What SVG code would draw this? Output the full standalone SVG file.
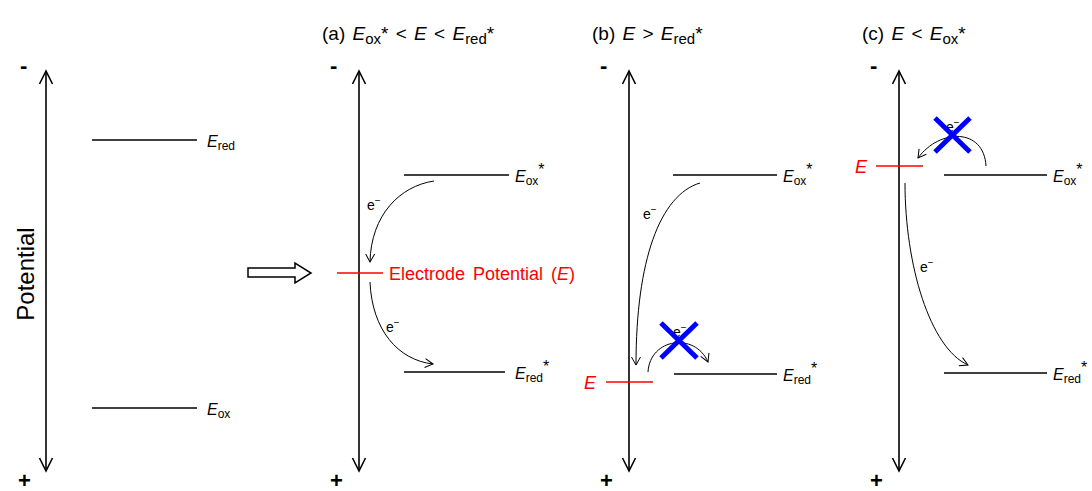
<svg xmlns="http://www.w3.org/2000/svg" width="1092" height="491" viewBox="0 0 1092 491">
<style>
text{font-family:"Liberation Sans",Arial,sans-serif;fill:#000}
.lbl{font-size:16px}
.i{font-style:italic}
.sub{font-size:12px}
.ttl{font-size:19px}
.red{fill:#ff0000}
.axis{stroke:#000;stroke-width:1.6;fill:none}
.lvl{stroke:#000;stroke-width:1.5;fill:none}
.rl{stroke:#ff0000;stroke-width:1.6;fill:none}
.cv{stroke:#000;stroke-width:1;fill:none}
.x{stroke:#0000ff;stroke-width:5;fill:none}
.sg{font-size:22px;font-weight:bold}
.el{font-size:14px}
</style>
<defs>
<marker id="ah" viewBox="-14 -8 16 16" refX="0" refY="0" markerWidth="16" markerHeight="16" markerUnits="userSpaceOnUse" orient="auto-start-reverse">
<path d="M-13,-6.5 L0,0 L-13,6.5" fill="none" stroke="#000" stroke-width="1.6"/>
</marker>
<marker id="sh" viewBox="-10 -6 12 12" refX="0" refY="0" markerWidth="12" markerHeight="12" markerUnits="userSpaceOnUse" orient="auto">
<path d="M-8,-4.5 L0,0 L-8,4.5" fill="none" stroke="#000" stroke-width="1"/>
</marker>
</defs>

<g id="panel0">
<line class="axis" x1="46" y1="71" x2="46" y2="471" marker-start="url(#ah)" marker-end="url(#ah)"/>
<text class="sg" x="20" y="73">-</text>
<text class="sg" x="18" y="488">+</text>
<text x="34" y="274" font-size="24" text-anchor="middle" transform="rotate(-90 34 274)">Potential</text>
<g id="Ered0"><line class="lvl" x1="92" y1="140" x2="197" y2="140"/>
<text class="lbl" x="207" y="147"><tspan class="i">E</tspan><tspan class="sub" dy="3">red</tspan></text></g>
<g id="Eox0"><line class="lvl" x1="92" y1="408" x2="197" y2="408"/>
<text class="lbl" x="207" y="415"><tspan class="i">E</tspan><tspan class="sub" dy="3">ox</tspan></text></g>
</g>

<g id="bigarrow">
<path d="M248,268 L295,268 L295,263 L311,273 L295,283 L295,277 L248,277 Z" fill="#fff" stroke="#000" stroke-width="1.5"/>
</g>

<g id="panelA">
<text class="ttl" x="322" y="40" word-spacing="2">(a) <tspan class="i">E</tspan><tspan font-size="15" dy="4">ox</tspan><tspan dy="-4">* &lt; </tspan><tspan class="i">E</tspan> &lt; <tspan class="i">E</tspan><tspan font-size="15" dy="4">red</tspan><tspan dy="-4">*</tspan></text>
<line class="axis" x1="359" y1="71" x2="359" y2="471" marker-start="url(#ah)" marker-end="url(#ah)"/>
<text class="sg" x="330" y="73">-</text>
<text class="sg" x="330" y="488">+</text>
<g id="EoxA"><line class="lvl" x1="404" y1="175" x2="509" y2="175"/>
<text class="lbl" x="515" y="182"><tspan class="i">E</tspan><tspan class="sub" dy="3">ox</tspan><tspan dy="-10">*</tspan></text></g>
<g id="EredA"><line class="lvl" x1="404" y1="372" x2="505" y2="372"/>
<text class="lbl" x="515" y="379"><tspan class="i">E</tspan><tspan class="sub" dy="3">red</tspan><tspan dy="-10">*</tspan></text></g>
<g id="EA"><line class="rl" x1="337" y1="273" x2="383" y2="273"/>
<text class="red" x="389" y="280" font-size="18" word-spacing="3">Electrode Potential (<tspan class="i">E</tspan>)</text></g>
<text class="el" x="367" y="210">e<tspan font-size="10" dy="-6">−</tspan></text>
<text class="el" x="386" y="332">e<tspan font-size="10" dy="-6">−</tspan></text>
</g>

<g id="panelB">
<text class="ttl" x="592" y="40" word-spacing="2">(b) <tspan class="i">E</tspan> &gt; <tspan class="i">E</tspan><tspan font-size="15" dy="4">red</tspan><tspan dy="-4">*</tspan></text>
<line class="axis" x1="629" y1="71" x2="629" y2="471" marker-start="url(#ah)" marker-end="url(#ah)"/>
<text class="sg" x="600" y="73">-</text>
<text class="sg" x="600" y="488">+</text>
<g id="EoxB"><line class="lvl" x1="673" y1="175" x2="777" y2="175"/>
<text class="lbl" x="783" y="182"><tspan class="i">E</tspan><tspan class="sub" dy="3">ox</tspan><tspan dy="-10">*</tspan></text></g>
<g id="EredB"><line class="lvl" x1="674" y1="374" x2="777" y2="374"/>
<text class="lbl" x="783" y="381"><tspan class="i">E</tspan><tspan class="sub" dy="3">red</tspan><tspan dy="-10">*</tspan></text></g>
<g id="EB"><line class="rl" x1="606" y1="382" x2="653" y2="382"/>
<text class="red i" font-size="18" x="584" y="389">E</text></g>
<text class="el" x="643" y="219">e<tspan font-size="10" dy="-6">−</tspan></text>
<text class="el" x="673" y="337">e<tspan font-size="10" dy="-6">−</tspan></text>
</g>

<g id="panelC">
<text class="ttl" x="862" y="40" word-spacing="2">(c) <tspan class="i">E</tspan> &lt; <tspan class="i">E</tspan><tspan font-size="15" dy="4">ox</tspan><tspan dy="-4">*</tspan></text>
<line class="axis" x1="899" y1="71" x2="899" y2="471" marker-start="url(#ah)" marker-end="url(#ah)"/>
<text class="sg" x="870" y="73">-</text>
<text class="sg" x="870" y="488">+</text>
<g id="EoxC"><line class="lvl" x1="944" y1="175" x2="1047" y2="175"/>
<text class="lbl" x="1053" y="182"><tspan class="i">E</tspan><tspan class="sub" dy="3">ox</tspan><tspan dy="-10">*</tspan></text></g>
<g id="EredC"><line class="lvl" x1="944" y1="373" x2="1047" y2="373"/>
<text class="lbl" x="1053" y="380"><tspan class="i">E</tspan><tspan class="sub" dy="3">red</tspan><tspan dy="-10">*</tspan></text></g>
<g id="EC"><line class="rl" x1="876" y1="166" x2="923" y2="166"/>
<text class="red i" font-size="18" x="855" y="173">E</text></g>
<text class="el" x="946" y="132">e<tspan font-size="10" dy="-6">−</tspan></text>
<text class="el" x="920" y="272">e<tspan font-size="10" dy="-6">−</tspan></text>
</g>

<g id="connectors">
<path class="cv" d="M434,181 C400,186 371,215 370,262" marker-end="url(#sh)"/>
<path class="cv" d="M370,282 C372,330 398,360 433,364" marker-end="url(#sh)"/>
<path class="cv" d="M700,183 C660,195 636,260 636,365" marker-end="url(#sh)"/>
<path class="cv" d="M648,372 C650,338 695,332 708,362" marker-end="url(#sh)"/>
<path class="cv" d="M986,166 C984,128 940,128 918,158" marker-end="url(#sh)"/>
<path class="cv" d="M905,183 C905,265 930,348 968,365" marker-end="url(#sh)"/>
</g>

<g id="crosses">
<path class="x" d="M661,323 L697,358 M697,323 L661,358"/>
<path class="x" d="M935,118 L970,152 M970,118 L935,152"/>
</g>
</svg>
